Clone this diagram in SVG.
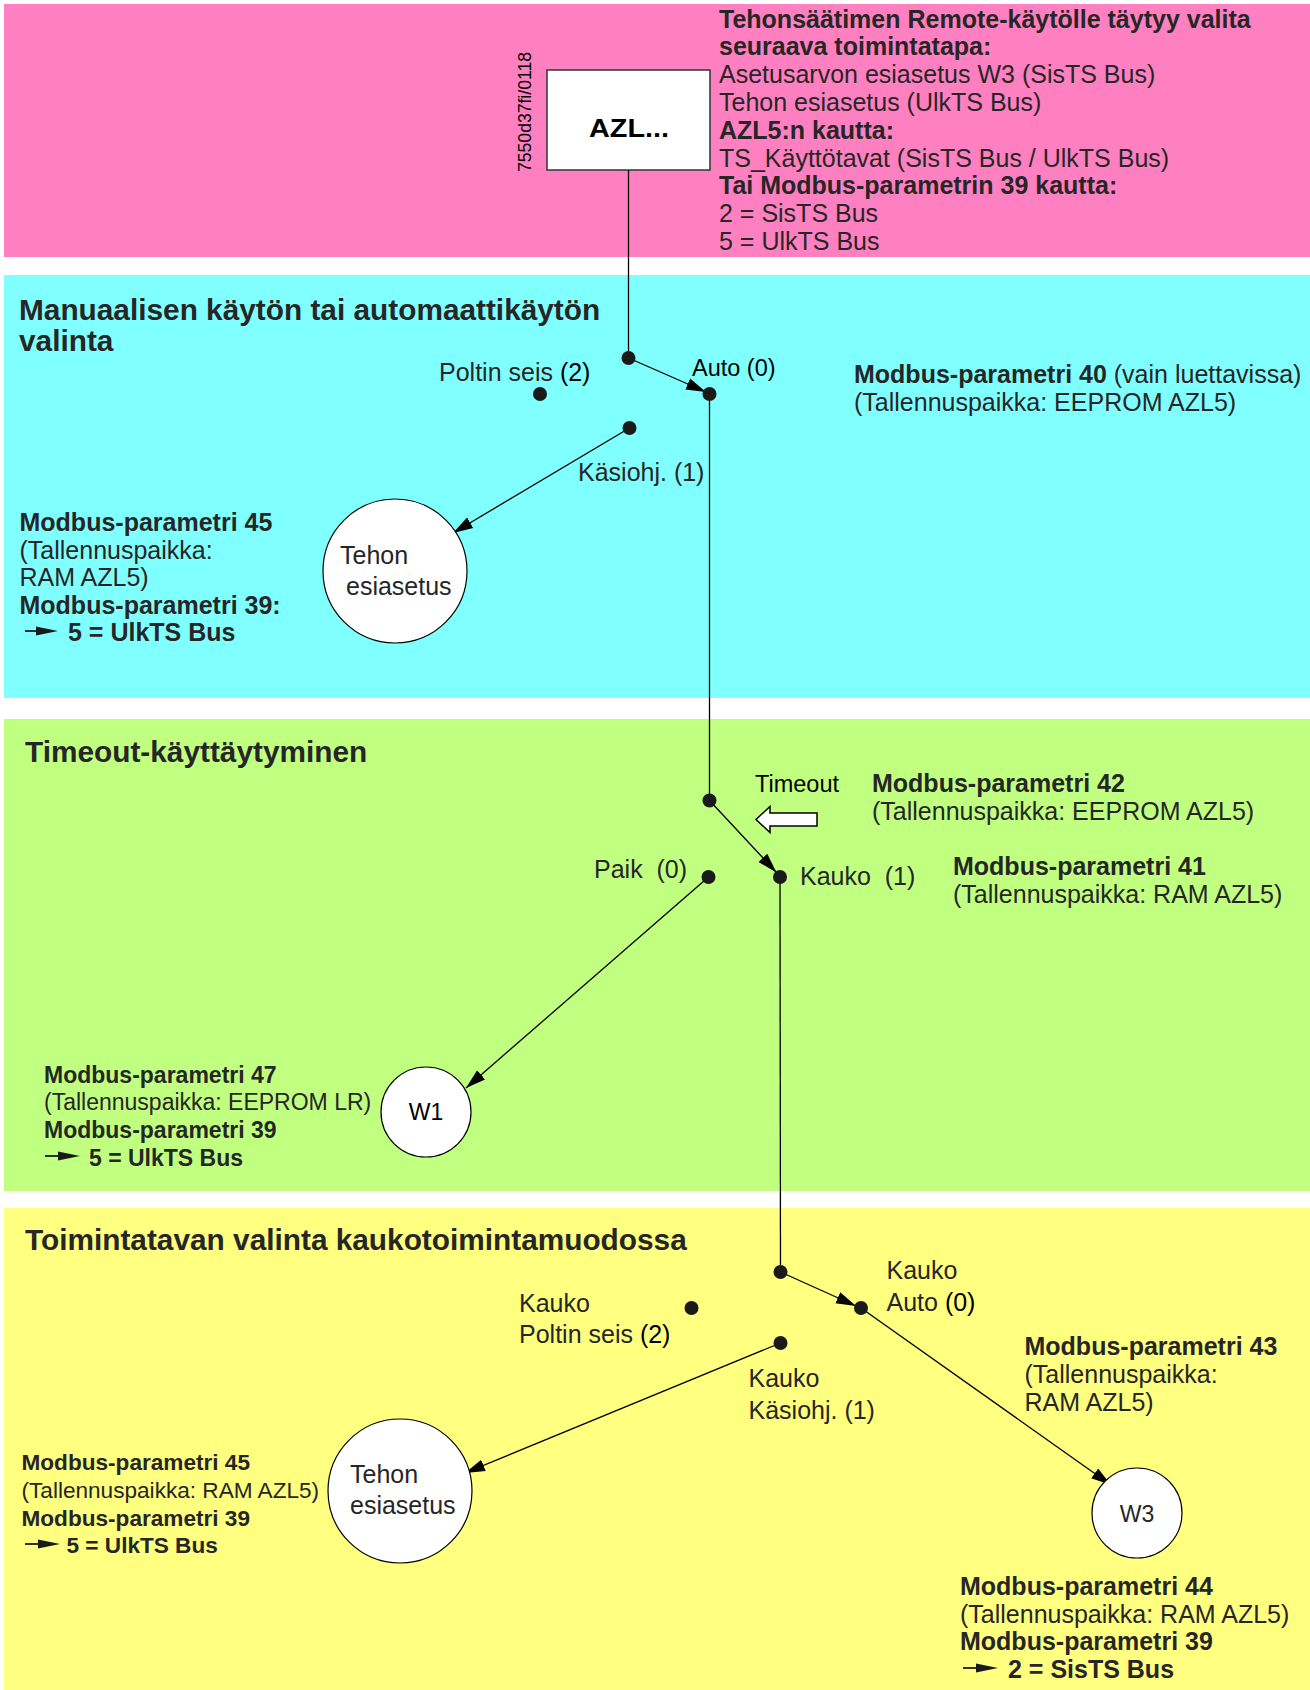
<svg xmlns="http://www.w3.org/2000/svg" width="1310" height="1690" viewBox="0 0 1310 1690">
<style>
text{font-family:"Liberation Sans",Arial,Helvetica,sans-serif;fill:#262626}
.t{font-size:25px}
.b{font-size:25px;font-weight:bold}
.pb{font-size:25px;font-weight:bold}
.h{font-size:29.8px;font-weight:bold}
.s{font-size:23px}
.sb{font-size:23px;font-weight:bold}
.y{font-size:22.6px}
.yb{font-size:22.6px;font-weight:bold}
.k{fill:#000}
.conn{stroke:#000;stroke-width:1.3;fill:none}
.arr{marker-end:url(#ah)}
.dot{fill:#1a1a1a}
.node{fill:#fff;stroke:#000;stroke-width:1.2}
.mini line{stroke:#1a1a1a;stroke-width:1.8}
.mini polygon{fill:#1a1a1a}
</style>
<defs>
<marker id="ah" markerUnits="userSpaceOnUse" markerWidth="22" markerHeight="14" refX="20" refY="7" orient="auto">
<path d="M0,1 L20,7 L0,13 z" fill="#000"/>
</marker>
</defs>
<rect width="1310" height="1690" fill="#fff"/>
<g id="bands">
<rect x="4" y="4" width="1306" height="253" fill="#ff80c0"/>
<rect x="4" y="275" width="1306" height="423" fill="#80ffff"/>
<rect x="4" y="719" width="1306" height="472" fill="#c0ff80"/>
<rect x="4" y="1208" width="1306" height="482" fill="#ffff80"/>
</g>
<g id="connectors">
<line class="conn" x1="628.5" y1="170" x2="628.5" y2="358"/>
<line class="conn arr" x1="628.5" y1="358" x2="706" y2="392"/>
<line class="conn arr" x1="629.5" y1="428" x2="453" y2="533"/>
<line class="conn" x1="709.5" y1="394" x2="709.5" y2="800.5"/>
<line class="conn arr" x1="709.5" y1="800.5" x2="776.5" y2="872.5"/>
<line class="conn arr" x1="708.5" y1="877" x2="466" y2="1088"/>
<line class="conn" x1="780" y1="877" x2="780.5" y2="1272"/>
<line class="conn arr" x1="780.5" y1="1272" x2="856" y2="1306"/>
<line class="conn arr" x1="861" y1="1308" x2="1111" y2="1485"/>
<line class="conn arr" x1="780.5" y1="1343" x2="465" y2="1473"/>
</g>
<g id="azl">
<rect x="547" y="70" width="163" height="100" fill="#fff" stroke="#333" stroke-width="1.5"/>
<text x="629" y="137" class="k" font-size="26" font-weight="bold" text-anchor="middle" textLength="80" lengthAdjust="spacingAndGlyphs">AZL...</text>
</g>
<g id="docid">
<text transform="translate(531,112) rotate(-90)" font-size="19" text-anchor="middle" class="k" textLength="120" lengthAdjust="spacingAndGlyphs">7550d37fi/0118</text>
</g>
<g id="pink-text">
<text x="719" y="27.5" class="pb">Tehonsäätimen Remote-käytölle täytyy valita</text>
<text x="719" y="55.3" class="pb">seuraava toimintatapa:</text>
<text x="719" y="83.1" class="t">Asetusarvon esiasetus W3 (SisTS Bus)</text>
<text x="719" y="110.9" class="t">Tehon esiasetus (UlkTS Bus)</text>
<text x="719" y="138.7" class="pb">AZL5:n kautta:</text>
<text x="719" y="166.5" class="t">TS_Käyttötavat (SisTS Bus / UlkTS Bus)</text>
<text x="719" y="194.3" class="pb">Tai Modbus-parametrin 39 kautta:</text>
<text x="719" y="222.1" class="t">2 = SisTS Bus</text>
<text x="719" y="249.9" class="t">5 = UlkTS Bus</text>
</g>
<g id="cyan-section">
<text x="19" y="319.5" class="h">Manuaalisen käytön tai automaattikäytön</text>
<text x="19" y="351" class="h">valinta</text>
<text x="854" y="383" class="t"><tspan class="b">Modbus-parametri 40</tspan> (vain luettavissa)</text>
<text x="854" y="410.5" class="t">(Tallennuspaikka: EEPROM AZL5)</text>
<text x="19.5" y="531" class="b">Modbus-parametri 45</text>
<text x="19.5" y="558.6" class="t">(Tallennuspaikka:</text>
<text x="19.5" y="586.2" class="t">RAM AZL5)</text>
<text x="19.5" y="613.8" class="b">Modbus-parametri 39:</text>
<g class="mini"><line x1="25" y1="631" x2="42" y2="631"/><polygon points="36,626.5 58,631 36,635.5"/></g>
<text x="68" y="641.4" class="b">5 = UlkTS Bus</text>
</g>
<g id="sw1-in"><circle class="dot" cx="628.5" cy="358" r="7"/></g>
<g id="sw1-poltin">
<circle class="dot" cx="540" cy="394" r="7"/>
<text x="439" y="381" class="t">Poltin seis <tspan class="k">(2)</tspan></text>
</g>
<g id="sw1-auto">
<circle class="dot" cx="709.5" cy="394" r="7"/>
<text x="692" y="376" class="k" font-size="23.5">Auto (0)</text>
</g>
<g id="sw1-kasi">
<circle class="dot" cx="629.5" cy="428" r="7"/>
<text x="578" y="481" class="t">Käsiohj. (1)</text>
</g>
<g id="tehon1">
<circle class="node" cx="395" cy="571" r="72"/>
<text x="340" y="563.5" class="t">Tehon</text>
<text x="346" y="595" class="t">esiasetus</text>
</g>
<g id="green-section">
<text x="25" y="762" class="h">Timeout-käyttäytyminen</text>
<text x="755" y="791.7" class="k" font-size="23.5">Timeout</text>
<polygon points="756,819.5 770,806.5 770,813 817,813 817,826 770,826 770,832.5" fill="#fff" stroke="#000" stroke-width="1.5"/>
<text x="872" y="791.7" class="b">Modbus-parametri 42</text>
<text x="872" y="820" class="t">(Tallennuspaikka: EEPROM AZL5)</text>
<text x="953" y="875" class="b">Modbus-parametri 41</text>
<text x="953" y="903" class="t">(Tallennuspaikka: RAM AZL5)</text>
<text x="44" y="1082.5" class="sb">Modbus-parametri 47</text>
<text x="44" y="1110.2" class="s">(Tallennuspaikka: EEPROM LR)</text>
<text x="44" y="1137.9" class="sb">Modbus-parametri 39</text>
<g class="mini"><line x1="45" y1="1156" x2="62" y2="1156"/><polygon points="58,1151.5 80,1156 58,1160.5"/></g>
<text x="89" y="1165.6" class="sb">5 = UlkTS Bus</text>
</g>
<g id="sw2-in"><circle class="dot" cx="709.5" cy="800.5" r="7"/></g>
<g id="sw2-paik">
<circle class="dot" cx="708.5" cy="877" r="7"/>
<text x="594" y="878.3" class="t" xml:space="preserve">Paik  (0)</text>
</g>
<g id="sw2-kauko">
<circle class="dot" cx="780" cy="877" r="7"/>
<text x="800" y="885" class="t" xml:space="preserve">Kauko  (1)</text>
</g>
<g id="w1">
<circle class="node" cx="426" cy="1112" r="45"/>
<text x="426" y="1120" class="k" font-size="23" text-anchor="middle">W1</text>
</g>
<g id="yellow-section">
<text x="25" y="1250" class="h">Toimintatavan valinta kaukotoimintamuodossa</text>
<text x="1024.5" y="1355" class="b">Modbus-parametri 43</text>
<text x="1024.5" y="1383" class="t">(Tallennuspaikka:</text>
<text x="1024.5" y="1411" class="t">RAM AZL5)</text>
<text x="21.5" y="1470" class="yb">Modbus-parametri 45</text>
<text x="21.5" y="1497.8" class="y">(Tallennuspaikka: RAM AZL5)</text>
<text x="21.5" y="1525.5" class="yb">Modbus-parametri 39</text>
<g class="mini"><line x1="25" y1="1544" x2="42" y2="1544"/><polygon points="38,1539.5 60,1544 38,1548.5"/></g>
<text x="66.5" y="1553" class="yb">5 = UlkTS Bus</text>
<text x="960" y="1595" class="b">Modbus-parametri 44</text>
<text x="960" y="1622.7" class="t">(Tallennuspaikka: RAM AZL5)</text>
<text x="960" y="1650.3" class="b">Modbus-parametri 39</text>
<g class="mini"><line x1="963" y1="1668" x2="980" y2="1668"/><polygon points="976,1663.5 998,1668 976,1672.5"/></g>
<text x="1008" y="1678" class="b">2 = SisTS Bus</text>
</g>
<g id="sw3-in"><circle class="dot" cx="780.5" cy="1272" r="7"/></g>
<g id="sw3-auto">
<circle class="dot" cx="861" cy="1308" r="7"/>
<text x="886.5" y="1279.3" class="t">Kauko</text>
<text x="886.5" y="1310.7" class="t">Auto <tspan class="k">(0)</tspan></text>
</g>
<g id="sw3-poltin">
<circle class="dot" cx="691.5" cy="1308" r="7"/>
<text x="519" y="1312" class="t">Kauko</text>
<text x="519" y="1343" class="t">Poltin seis <tspan class="k">(2)</tspan></text>
</g>
<g id="sw3-kasi">
<circle class="dot" cx="780.5" cy="1343" r="7"/>
<text x="748.5" y="1387" class="t">Kauko</text>
<text x="748.5" y="1419" class="t">Käsiohj. (1)</text>
</g>
<g id="tehon2">
<circle class="node" cx="400" cy="1491" r="72"/>
<text x="350" y="1483" class="t">Tehon</text>
<text x="350" y="1514" class="t">esiasetus</text>
</g>
<g id="w3">
<circle class="node" cx="1137" cy="1513" r="45"/>
<text x="1137" y="1521.5" font-size="23" text-anchor="middle">W3</text>
</g>
</svg>
